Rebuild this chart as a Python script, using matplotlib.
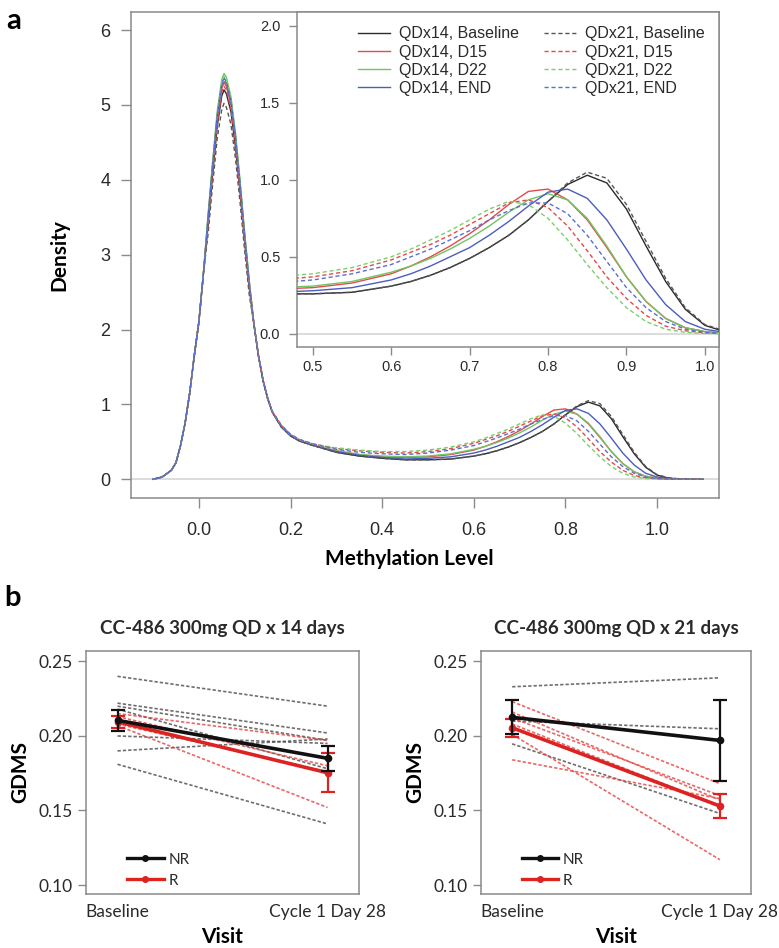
"""Methylation density curves (a) and GDMS per visit (b)."""

import matplotlib

matplotlib.use("Agg")
import matplotlib.pyplot as plt
from matplotlib.lines import Line2D

# ---- panel a: density curves ----
X_GRID = [-0.10, -0.08, -0.06, -0.05, -0.04, -0.03, -0.02, -0.01, 0.00, 0.01,
          0.02, 0.03, 0.04, 0.05, 0.055, 0.06, 0.07, 0.08, 0.09, 0.10, 0.11,
          0.12, 0.13, 0.14, 0.15, 0.16, 0.18, 0.20, 0.22, 0.25,
          0.30, 0.35, 0.40, 0.45, 0.50, 0.55, 0.60, 0.625, 0.65, 0.675, 0.70,
          0.725, 0.75, 0.775, 0.80, 0.825, 0.85, 0.875, 0.90, 0.925, 0.95,
          0.975, 1.00, 1.025, 1.05, 1.075, 1.10]

QD14_BASELINE = [0.0, 0.03, 0.12, 0.22, 0.45, 0.75, 1.15, 1.65, 2.10, 2.75,
                 3.38, 4.07, 4.71, 5.12, 5.20, 5.15, 4.91, 4.43, 3.83, 3.16, 2.55,
                 2.08, 1.65, 1.32, 1.08, 0.90, 0.70, 0.58, 0.51, 0.45,
                 0.36, 0.31, 0.28, 0.26, 0.26, 0.27, 0.31, 0.34, 0.38, 0.43, 0.49,
                 0.56, 0.64, 0.74, 0.86, 0.97, 1.03, 0.98, 0.81, 0.57, 0.34,
                 0.16, 0.055, 0.015, 0.004, 0.001, 0.0]
QD14_D15 = [0.0, 0.03, 0.12, 0.22, 0.45, 0.75, 1.15, 1.65, 2.10, 2.75,
            3.45, 4.15, 4.80, 5.22, 5.30, 5.25, 5.00, 4.52, 3.90, 3.22, 2.60,
            2.08, 1.65, 1.32, 1.08, 0.90, 0.70, 0.58, 0.51, 0.45,
            0.38, 0.33, 0.30, 0.29, 0.30, 0.33, 0.39, 0.44, 0.50, 0.57, 0.65,
            0.74, 0.84, 0.925, 0.94, 0.87, 0.74, 0.56, 0.37, 0.21, 0.10,
            0.04, 0.015, 0.005, 0.001, 0.0, 0.0]
QD14_D22 = [0.0, 0.03, 0.12, 0.22, 0.45, 0.75, 1.15, 1.65, 2.10, 2.75,
            3.53, 4.24, 4.91, 5.34, 5.42, 5.37, 5.11, 4.62, 3.99, 3.29, 2.66,
            2.08, 1.65, 1.32, 1.08, 0.90, 0.70, 0.58, 0.51, 0.45,
            0.38, 0.33, 0.31, 0.30, 0.31, 0.34, 0.40, 0.44, 0.49, 0.55, 0.62,
            0.70, 0.79, 0.87, 0.91, 0.87, 0.75, 0.57, 0.37, 0.21, 0.10,
            0.04, 0.015, 0.005, 0.001, 0.0, 0.0]
QD14_END = [0.0, 0.03, 0.12, 0.22, 0.45, 0.75, 1.15, 1.65, 2.10, 2.75,
            3.49, 4.20, 4.85, 5.28, 5.36, 5.31, 5.06, 4.57, 3.94, 3.26, 2.63,
            2.08, 1.65, 1.32, 1.08, 0.90, 0.70, 0.58, 0.51, 0.45,
            0.37, 0.32, 0.29, 0.27, 0.28, 0.30, 0.35, 0.39, 0.44, 0.50, 0.56,
            0.64, 0.73, 0.83, 0.92, 0.94, 0.88, 0.74, 0.55, 0.35, 0.19,
            0.08, 0.03, 0.01, 0.003, 0.0, 0.0]
QD21_BASELINE = [0.0, 0.03, 0.12, 0.22, 0.45, 0.75, 1.15, 1.65, 2.10, 2.75,
                 3.27, 3.93, 4.55, 4.94, 5.02, 4.97, 4.74, 4.28, 3.69, 3.05, 2.46,
                 2.08, 1.65, 1.32, 1.08, 0.90, 0.70, 0.58, 0.51, 0.45,
                 0.36, 0.31, 0.28, 0.26, 0.26, 0.27, 0.31, 0.34, 0.38, 0.43, 0.49,
                 0.56, 0.64, 0.74, 0.86, 0.98, 1.05, 1.01, 0.84, 0.60, 0.36,
                 0.17, 0.06, 0.02, 0.005, 0.001, 0.0]
QD21_D15 = [0.0, 0.03, 0.12, 0.22, 0.45, 0.75, 1.15, 1.65, 2.10, 2.75,
            3.42, 4.11, 4.75, 5.17, 5.25, 5.20, 4.95, 4.48, 3.86, 3.19, 2.58,
            2.08, 1.66, 1.33, 1.09, 0.91, 0.72, 0.60, 0.53, 0.47,
            0.41, 0.38, 0.36, 0.35, 0.37, 0.41, 0.48, 0.53, 0.58, 0.64, 0.71,
            0.78, 0.85, 0.87, 0.82, 0.70, 0.54, 0.37, 0.23, 0.12, 0.05,
            0.02, 0.006, 0.002, 0.0, 0.0, 0.0]
QD21_D22 = [0.0, 0.03, 0.12, 0.22, 0.45, 0.75, 1.15, 1.65, 2.10, 2.75,
            3.50, 4.21, 4.87, 5.30, 5.38, 5.33, 5.08, 4.59, 3.96, 3.27, 2.64,
            2.08, 1.66, 1.33, 1.09, 0.91, 0.72, 0.60, 0.53, 0.47,
            0.42, 0.39, 0.37, 0.37, 0.39, 0.43, 0.50, 0.55, 0.61, 0.67, 0.74,
            0.81, 0.86, 0.84, 0.75, 0.61, 0.45, 0.30, 0.17, 0.08, 0.03,
            0.01, 0.003, 0.001, 0.0, 0.0, 0.0]
QD21_END = [0.0, 0.03, 0.12, 0.22, 0.45, 0.75, 1.15, 1.65, 2.10, 2.75,
            3.47, 4.17, 4.83, 5.25, 5.33, 5.28, 5.03, 4.55, 3.92, 3.24, 2.61,
            2.08, 1.66, 1.33, 1.09, 0.91, 0.72, 0.60, 0.53, 0.47,
            0.40, 0.36, 0.34, 0.33, 0.35, 0.39, 0.45, 0.50, 0.55, 0.61, 0.67,
            0.74, 0.80, 0.85, 0.85, 0.78, 0.64, 0.47, 0.30, 0.17, 0.08,
            0.03, 0.01, 0.003, 0.001, 0.0, 0.0]

CURVE_LABELS = ["QDx14, Baseline", "QDx14, D15", "QDx14, D22", "QDx14, END",
                "QDx21, Baseline", "QDx21, D15", "QDx21, D22", "QDx21, END"]

# ---- panel b: GDMS per patient and group means ----
VISITS = ["Baseline", "Cycle 1 Day 28"]
D14_NR_START = [0.240, 0.222, 0.220, 0.218, 0.200, 0.190, 0.181]
D14_NR_END = [0.220, 0.202, 0.197, 0.178, 0.195, 0.198, 0.141]
D14_R_START = [0.215, 0.213, 0.208, 0.207]
D14_R_END = [0.197, 0.180, 0.176, 0.152]
D14_NR_MEAN = [0.2105, 0.1850]
D14_NR_SE = [0.0070, 0.0085]
D14_R_MEAN = [0.2095, 0.1753]
D14_R_SE = [0.0040, 0.0130]

D21_NR_START = [0.233, 0.210, 0.1947]
D21_NR_END = [0.239, 0.2048, 0.148]
D21_R_START = [0.223, 0.216, 0.212, 0.208, 0.201, 0.184]
D21_R_END = [0.168, 0.157, 0.160, 0.153, 0.117, 0.158]
D21_NR_MEAN = [0.2125, 0.1970]
D21_NR_SE = [0.0115, 0.0270]
D21_R_MEAN = [0.2055, 0.1530]
D21_R_SE = [0.0060, 0.0083]

SANS = ["Liberation Sans", "DejaVu Sans"]
CAL = ["Lato", "DejaVu Sans"]
SPINE = "#8a8a8a"
TXT = "#2a2a2a"

SOLID = "-"
DASH = (0, (3, 2))
STYLES = [("#2b2b2b", SOLID), ("#e24b4b", SOLID), ("#72c462", SOLID), ("#4c5cc0", SOLID),
          ("#555555", DASH), ("#e8474a", DASH), ("#7ccf6a", DASH), ("#5a6fd0", DASH)]


def style_box(ax, tick_len):
    for s in ax.spines.values():
        s.set_color(SPINE)
        s.set_linewidth(1.1)
    ax.tick_params(color=SPINE, length=tick_len, width=1.0, labelcolor=TXT)


def draw_curves(ax):
    ax.axhline(0, color="#d6d6d6", linewidth=1.2, zorder=1)
    series = [QD14_BASELINE, QD14_D15, QD14_D22, QD14_END,
              QD21_BASELINE, QD21_D15, QD21_D22, QD21_END]
    for label, y, (col, ls) in zip(CURVE_LABELS, series, STYLES):
        ax.plot(X_GRID, y, color=col, linestyle=ls, linewidth=1.0, label=label, zorder=3)


def gdms_panel(ax, title, nr_s, nr_e, r_s, r_e, nr_m, nr_se, r_m, r_se):
    for a, b in zip(nr_s, nr_e):
        ax.plot([1, 2], [a, b], color="#4a4a4a", linestyle=(0, (2, 1.2)), linewidth=1.2, alpha=0.8, zorder=2)
    for a, b in zip(r_s, r_e):
        ax.plot([1, 2], [a, b], color="#e8403f", linestyle=(0, (2, 1.2)), linewidth=1.2, alpha=0.8, zorder=2)
    ax.errorbar([1, 2], r_m, yerr=r_se, color="#dd2222", linewidth=2.6, marker="o", markersize=4.5,
                capsize=5, elinewidth=1.6, capthick=1.6, zorder=4)
    ax.errorbar([1, 2], nr_m, yerr=nr_se, color="#111111", linewidth=2.6, marker="o", markersize=4.5,
                capsize=5, elinewidth=1.6, capthick=1.6, zorder=5)
    ax.set_xlim(0.85, 2.15)
    ax.set_ylim(0.094, 0.257)
    ax.set_yticks([0.10, 0.15, 0.20, 0.25])
    ax.set_yticklabels(["0.10", "0.15", "0.20", "0.25"], family=CAL, fontsize=12.5)
    ax.set_xticks([1, 2])
    ax.set_xticklabels(VISITS, family=CAL, fontsize=12.5)
    style_box(ax, 6)
    ax.tick_params(axis="x", length=0, pad=7)
    ax.set_title(title, family=CAL, fontsize=13.5, fontweight="bold", color=TXT, pad=12)
    ax.set_ylabel("GDMS", family=CAL, fontsize=15, fontweight="bold", color="black", labelpad=6)
    ax.set_xlabel("Visit", family=CAL, fontsize=15, fontweight="bold", color="black", labelpad=5)
    handles = [Line2D([], [], color="#111111", linewidth=2.4, marker="o", markersize=4),
               Line2D([], [], color="#dd2222", linewidth=2.4, marker="o", markersize=4)]
    ax.legend(handles, ["NR", "R"], loc="lower left", bbox_to_anchor=(0.1, -0.03), frameon=False,
              prop={"family": CAL, "size": 11}, handlelength=2.4, handletextpad=0.3, labelspacing=0.45,
              labelcolor=TXT)


def main():
    fig = plt.figure(figsize=(7.79, 9.48), dpi=100)

    # main density panel
    ax = fig.add_axes([0.1682, 0.4747, 0.7548, 0.5126])
    draw_curves(ax)
    ax.set_xlim(-0.148, 1.135)
    ax.set_ylim(-0.25, 6.24)
    ax.set_yticks(range(0, 7))
    ax.set_yticklabels([str(v) for v in range(0, 7)], family=SANS, fontsize=13)
    ax.set_xticks([0.0, 0.2, 0.4, 0.6, 0.8, 1.0])
    ax.set_xticklabels(["0.0", "0.2", "0.4", "0.6", "0.8", "1.0"], family=SANS, fontsize=13)
    style_box(ax, 7)
    ax.tick_params(axis="x", pad=10)
    ax.tick_params(axis="y", pad=8)
    ax.set_ylabel("Density", family=CAL, fontsize=15, fontweight="bold", color="black")
    ax.yaxis.set_label_coords(-0.105, 0.5)
    ax.set_xlabel("Methylation Level", family=CAL, fontsize=15, fontweight="bold", color="black")
    ax.xaxis.set_label_coords(0.473, -0.105)

    # zoomed inset
    ins = fig.add_axes([0.3813, 0.634, 0.5417, 0.3534], zorder=5)
    ins.set_facecolor("white")
    draw_curves(ins)
    ins.set_xlim(0.48, 1.018)
    ins.set_ylim(-0.085, 2.09)
    ins.set_yticks([0.0, 0.5, 1.0, 1.5, 2.0])
    ins.set_yticklabels(["0.0", "0.5", "1.0", "1.5", "2.0"], family=SANS, fontsize=10.5)
    ins.set_xticks([0.5, 0.6, 0.7, 0.8, 0.9, 1.0])
    ins.set_xticklabels(["0.5", "0.6", "0.7", "0.8", "0.9", "1.0"], family=SANS, fontsize=10.5)
    style_box(ins, 6)
    ins.tick_params(axis="y", pad=6)
    ins.legend(loc="upper right", bbox_to_anchor=(1.0, 1.0), ncol=2, frameon=False,
               prop={"family": SANS, "size": 11.5}, handlelength=2.0, handletextpad=0.55,
               columnspacing=1.6, labelspacing=0.2, labelcolor=TXT)

    # panel b
    left = fig.add_axes([0.1104, 0.0570, 0.3505, 0.2563])
    gdms_panel(left, "CC-486 300mg QD x 14 days", D14_NR_START, D14_NR_END, D14_R_START, D14_R_END,
               D14_NR_MEAN, D14_NR_SE, D14_R_MEAN, D14_R_SE)
    right = fig.add_axes([0.6175, 0.0570, 0.3466, 0.2563])
    gdms_panel(right, "CC-486 300mg QD x 21 days", D21_NR_START, D21_NR_END, D21_R_START, D21_R_END,
               D21_NR_MEAN, D21_NR_SE, D21_R_MEAN, D21_R_SE)

    fig.text(0.008, 0.992, "a", family=CAL, fontsize=21, fontweight="bold", va="top")
    fig.text(0.006, 0.383, "b", family=CAL, fontsize=21, fontweight="bold", va="top")

    fig.savefig("out.png", dpi=100)


if __name__ == "__main__":
    main()
